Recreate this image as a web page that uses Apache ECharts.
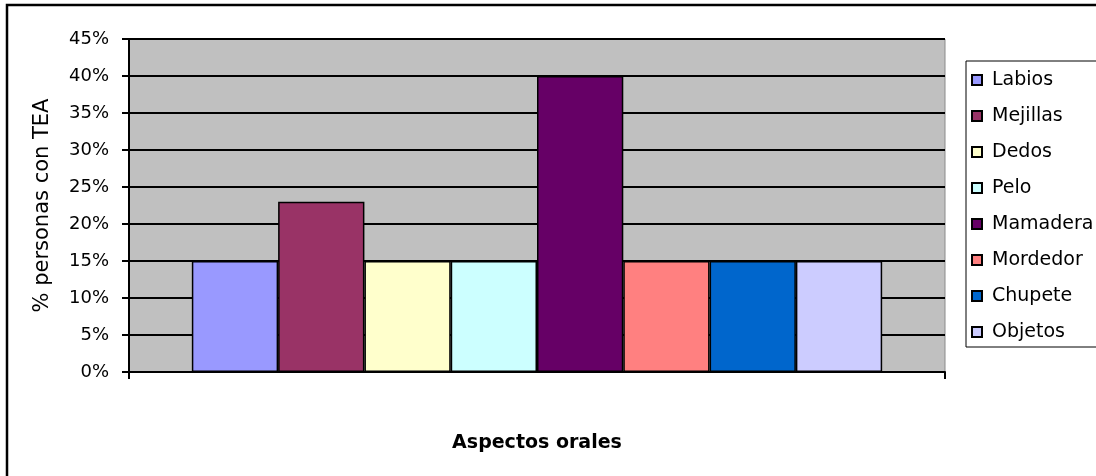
<!DOCTYPE html>
<html>
<head>
<meta charset="utf-8">
<script src="https://cdn.jsdelivr.net/npm/echarts@6/dist/echarts.min.js"></script>
<style>
  html, body { margin: 0; padding: 0; background: #fff; }
  #chart { width: 1096px; height: 476px; }
</style>
</head>
<body>
<div id="chart"></div>
<script>
// Oral aspects reported by people with ASD (percent)
const aspectos = ['Labios', 'Mejillas', 'Dedos', 'Pelo', 'Mamadera', 'Mordedor', 'Chupete', 'Objetos'];
const porcentajes = [15, 23, 15, 15, 40, 15, 15, 15];
const colores = ['#9999FF', '#993366', '#FFFFCC', '#CCFFFF', '#660066', '#FF8080', '#0066CC', '#CCCCFF'];
const categoria = ['Aspectos orales'];

const font = 'DejaVu Sans';

const series = aspectos.map((nombre, i) => ({
  name: nombre,
  type: 'bar',
  data: [porcentajes[i]],
  barGap: '0%',
  barCategoryGap: '15.4%',
  itemStyle: { color: colores[i], borderColor: '#000', borderWidth: 1.5 }
}));

const chart = echarts.init(document.getElementById('chart'), null, { renderer: 'canvas' });
chart.setOption({
  animation: false,
  backgroundColor: '#fff',
  graphic: [{
    type: 'rect',
    z: -10,
    shape: { x: 7, y: 5, width: 1200, height: 600 },
    style: { fill: 'none', stroke: '#000', lineWidth: 2.5 }
  }],
  grid: {
    left: 129, top: 39, width: 816, height: 333,
    show: true,
    backgroundColor: '#C0C0C0',
    borderColor: '#8a8a8a',
    borderWidth: 1
  },
  legend: {
    orient: 'vertical',
    left: 966,
    top: 61,
    padding: [9, 40, 5, 5],
    borderColor: '#000',
    borderWidth: 1,
    itemWidth: 20,
    itemHeight: 10,
    itemGap: 16,
    icon: 'path://M0,0H10V10H0Z',
    textStyle: { fontFamily: font, fontSize: 19, color: '#000', lineHeight: 20 },
    data: aspectos
  },
  xAxis: {
    type: 'category',
    data: categoria,
    name: 'Aspectos orales',
    nameLocation: 'middle',
    nameGap: 62,
    nameTextStyle: { fontFamily: font, fontSize: 19, fontWeight: 'bold', color: '#000' },
    axisLine: { lineStyle: { color: '#000', width: 2 } },
    axisTick: { show: true, length: 7, lineStyle: { color: '#000', width: 2 } },
    axisLabel: { show: false }
  },
  yAxis: {
    type: 'value',
    min: 0, max: 45, interval: 5,
    name: '% personas con TEA',
    nameLocation: 'middle',
    nameGap: 76,
    nameRotate: 90,
    nameTextStyle: { fontFamily: font, fontSize: 21, color: '#000' },
    axisLine: { show: true, lineStyle: { color: '#000', width: 2 } },
    axisTick: { show: true, length: 7, lineStyle: { color: '#000', width: 2 } },
    axisLabel: { formatter: '{value}%', margin: 20, fontFamily: font, fontSize: 18, color: '#000' },
    splitLine: { show: true, lineStyle: { color: '#000', width: 2 } }
  },
  series: series
});
</script>
</body>
</html>
